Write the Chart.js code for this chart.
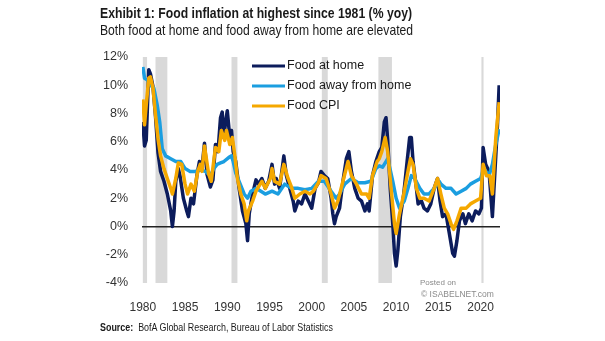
<!DOCTYPE html>
<html>
<head>
<meta charset="utf-8">
<script src="https://cdn.jsdelivr.net/npm/chart.js@4.4.1/dist/chart.umd.min.js"></script>
<style>
  body { margin: 0; background: #fff; }
  #wrap { position: relative; width: 605px; height: 341px; font-family: "Liberation Sans", Arial, sans-serif; color: #1a1a1a; }
  canvas { position: absolute; left: 0; top: 0; }
  .txt { position: absolute; white-space: nowrap; display: inline-block; transform-origin: 0 50%; }
  #title { left: 100px; top: 4px; font-size: 15px; line-height: 18px; font-weight: bold; }
  #subtitle { left: 100px; top: 21px; font-size: 14.5px; line-height: 18px; }
  #source { left: 100px; top: 320px; font-size: 11px; line-height: 14px; }
  #posted { left: 420px; top: 278px; font-size: 8px; line-height: 10px; color: #8a8a8a; }
  #isabel { left: 421px; top: 289px; font-size: 8.5px; line-height: 10px; color: #8a8a8a; }
</style>
</head>
<body>
<div id="wrap">
  <canvas id="chart" width="605" height="341"></canvas>
  <div class="txt" id="title" data-w="312">Exhibit 1: Food inflation at highest since 1981 (% yoy)</div>
  <div class="txt" id="subtitle" data-w="313">Both food at home and food away from home are elevated</div>
  <div class="txt" id="source" data-w="233"><b>Source:</b>&nbsp; BofA Global Research, Bureau of Labor Statistics</div>
  <div class="txt" id="posted">Posted on</div>
  <div class="txt" id="isabel">© ISABELNET.com</div>
</div>
<script>
// Food at home, % yoy
const homeYears = [1980.0, 1980.2, 1980.4, 1980.7, 1980.9, 1981.2, 1981.5, 1981.8, 1982.1, 1982.5, 1982.9, 1983.3, 1983.5, 1983.7, 1983.9,
  1984.2, 1984.4, 1984.8, 1985.2, 1985.4, 1985.7, 1986.0, 1986.4, 1986.7, 1987.0, 1987.3, 1987.6, 1988.0, 1988.3, 1988.6,
  1988.9, 1989.2, 1989.4, 1989.6, 1989.8, 1990.0, 1990.3, 1990.5, 1990.7, 1991.0, 1991.4, 1991.8, 1992.2, 1992.4, 1992.6,
  1993.0, 1993.4, 1993.7, 1994.1, 1994.5, 1994.9, 1995.3, 1995.6, 1995.8, 1996.2, 1996.7, 1997.0, 1997.4, 1997.8, 1998.0,
  1998.4, 1998.8, 1999.2, 1999.6, 2000.0, 2000.4, 2000.8, 2001.1, 2001.5, 2001.9, 2002.3, 2002.5, 2002.7, 2002.9, 2003.3,
  2003.7, 2004.1, 2004.4, 2004.7, 2005.1, 2005.5, 2005.9, 2006.3, 2006.6, 2006.8, 2007.2, 2007.6, 2008.0, 2008.3, 2008.6,
  2008.8, 2009.0, 2009.3, 2009.6, 2009.8, 2010.0, 2010.2, 2010.5, 2010.9, 2011.3, 2011.6, 2011.8, 2012.0, 2012.4, 2012.6,
  2013.0, 2013.3, 2013.7, 2014.1, 2014.5, 2014.9, 2015.2, 2015.5, 2015.9, 2016.3, 2016.7, 2016.9, 2017.2, 2017.5, 2017.9,
  2018.2, 2018.6, 2019.0, 2019.4, 2019.8, 2020.1, 2020.3, 2020.6, 2021.0, 2021.4, 2021.7, 2022.0, 2022.2];
const homeValues = [7.4, 5.7, 6.1, 11.1, 10.8, 9.9, 7.8, 5.2, 3.9, 3.2, 2.3, 1.1, 0.0, 1.1, 3.2,
  4.1, 3.6, 2.0, 1.1, 0.7, 2.0, 1.6, 3.6, 4.6, 4.1, 5.9, 3.7, 2.8, 3.3, 5.8,
  5.3, 7.7, 8.1, 6.3, 7.4, 8.2, 6.3, 6.8, 5.3, 4.6, 2.7, 1.1, 0.2, -1.0, 0.9,
  2.3, 3.3, 3.0, 3.4, 2.7, 3.2, 4.4, 3.0, 3.4, 2.7, 5.0, 3.6, 2.7, 1.8, 1.1,
  1.8, 1.6, 2.3, 1.8, 1.3, 2.7, 3.1, 3.9, 3.6, 3.4, 2.0, 0.9, 0.2, 0.7, 1.3,
  3.2, 4.8, 5.3, 3.9, 2.7, 2.0, 1.8, 1.1, 1.6, 1.1, 3.6, 4.6, 5.3, 5.6, 7.4,
  7.7, 6.1, 2.7, 0.2, -1.9, -2.8, -1.7, 0.7, 2.3, 4.6, 6.3, 6.3, 4.6, 2.7, 1.6,
  1.8, 1.3, 1.1, 1.6, 2.7, 3.4, 1.8, 0.7, 0.9, -0.5, -1.9, -2.1, -1.0, 0.4, 0.9,
  0.2, 0.9, 0.4, 1.1, 0.9, 1.3, 5.6, 4.4, 3.9, 0.7, 3.9, 7.2, 10.0];

// Food away from home, % yoy
const awayYears = [1980.0, 1980.2, 1980.5, 1980.9, 1981.3, 1981.7, 1982.0, 1982.3, 1982.7, 1983.3, 1983.9, 1984.5, 1985.0, 1985.6, 1986.2,
  1986.8, 1987.4, 1988.0, 1988.4, 1988.8, 1989.2, 1989.6, 1990.2, 1990.5, 1990.7, 1991.0, 1991.4, 1992.0, 1992.4, 1992.8,
  1993.4, 1993.7, 1994.5, 1995.3, 1996.0, 1996.8, 1997.6, 1998.4, 1999.2, 2000.0, 2000.8, 2001.5, 2002.3, 2002.9, 2003.3,
  2003.9, 2004.7, 2005.5, 2006.3, 2007.0, 2007.6, 2008.0, 2008.4, 2008.8, 2009.0, 2009.3, 2009.6, 2010.0, 2010.4, 2010.96,
  2011.4, 2011.8, 2012.2, 2012.8, 2013.3, 2013.9, 2014.5, 2015.1, 2015.3, 2015.9, 2016.5, 2017.1, 2017.7, 2018.3, 2018.8,
  2019.4, 2020.0, 2020.4, 2021.0, 2021.4, 2021.8, 2022.2];
const awayValues = [11.3, 10.5, 10.4, 10.0, 9.8, 8.6, 7.4, 5.5, 5.0, 4.8, 4.6, 4.6, 4.1, 3.9, 3.9,
  4.0, 3.9, 3.6, 4.1, 4.4, 4.5, 4.6, 4.9, 5.0, 4.6, 3.8, 3.2, 2.3, 2.0, 2.5,
  2.7, 2.6, 2.3, 2.5, 2.3, 3.0, 2.7, 2.7, 2.6, 2.7, 3.2, 3.2, 2.5, 2.0, 2.3,
  3.0, 3.4, 3.1, 3.1, 3.2, 4.1, 4.3, 4.2, 4.6, 4.8, 4.0, 3.2, 2.0, 1.3, 1.8,
  2.7, 3.6, 3.4, 2.7, 2.3, 2.3, 2.7, 3.2, 3.0, 2.7, 2.7, 2.3, 2.5, 2.7, 3.0,
  3.2, 3.4, 4.1, 3.6, 4.4, 5.8, 6.9];

// Food CPI, % yoy
const cpiYears = [1980.0, 1980.2, 1980.4, 1980.7, 1980.9, 1981.2, 1981.5, 1981.8, 1982.1, 1982.5, 1982.9, 1983.3, 1983.5, 1983.9, 1984.2,
  1984.6, 1985.0, 1985.3, 1985.7, 1986.1, 1986.5, 1986.8, 1987.0, 1987.3, 1987.8, 1988.1, 1988.6, 1989.0, 1989.3, 1989.7,
  1989.9, 1990.3, 1990.6, 1990.9, 1991.2, 1991.6, 1992.0, 1992.3, 1992.5, 1993.0, 1993.4, 1993.7, 1994.1, 1994.5, 1995.1,
  1995.3, 1995.6, 1996.2, 1996.7, 1997.2, 1997.6, 1998.0, 1998.6, 1999.2, 1999.8, 2000.2, 2000.8, 2001.1, 2001.7, 2002.3,
  2002.7, 2003.1, 2003.7, 2004.3, 2004.7, 2005.3, 2005.9, 2006.5, 2006.8, 2007.2, 2007.75, 2008.0, 2008.3, 2008.7, 2009.0,
  2009.4, 2009.8, 2010.0, 2010.4, 2010.9, 2011.4, 2011.7, 2012.0, 2012.4, 2012.8, 2013.3, 2013.9, 2014.5, 2014.9, 2015.3,
  2015.7, 2016.1, 2016.5, 2016.8, 2017.2, 2017.7, 2018.3, 2018.8, 2019.4, 2020.0, 2020.3, 2020.7, 2021.1, 2021.4, 2021.8,
  2022.2];
const cpiValues = [9.0, 7.2, 8.6, 10.5, 10.6, 9.8, 7.9, 6.2, 5.0, 4.1, 3.4, 2.7, 2.3, 3.4, 4.5,
  4.4, 3.0, 2.3, 3.0, 2.5, 3.9, 4.4, 3.9, 5.7, 3.7, 3.2, 5.6, 5.3, 6.8, 6.1,
  6.8, 5.8, 6.3, 5.0, 3.4, 2.3, 1.6, 0.4, 1.1, 1.8, 2.5, 2.8, 3.2, 2.7, 3.4,
  4.1, 3.2, 3.0, 4.4, 3.4, 2.8, 2.0, 2.3, 2.5, 2.3, 2.5, 3.1, 3.6, 3.4, 2.3,
  1.3, 1.8, 3.2, 4.6, 3.6, 3.0, 2.3, 2.3, 2.0, 3.6, 4.6, 4.8, 5.3, 6.3, 5.3,
  2.7, 0.2, -0.5, 0.9, 2.3, 3.9, 4.8, 4.4, 2.7, 2.0, 2.0, 1.8, 2.7, 3.4, 2.3,
  1.3, 0.9, 0.2, -0.2, 0.4, 1.3, 1.3, 1.6, 1.8, 2.0, 4.4, 3.6, 3.6, 2.3, 6.3,
  8.8];

// US recessions (shaded)
const recessionStart = [1980.0, 1981.5, 1990.5, 2001.2, 2007.9, 2020.1];
const recessionEnd = [1980.5, 1982.9, 1991.2, 2001.9, 2009.5, 2020.35];

const xTicks = [1980, 1985, 1990, 1995, 2000, 2005, 2010, 2015, 2020];

const seriesLabels = ['Food at home', 'Food away from home', 'Food CPI'];
const seriesColors = ['#0c1c5c', '#1b9ee0', '#f5a800'];

function pts(xs, ys) {
  return xs.map((x, i) => ({ x: x, y: ys[i] }));
}

const recessionPlugin = {
  id: 'recessions',
  beforeDraw(chart) {
    const { ctx, chartArea, scales } = chart;
    ctx.save();
    ctx.fillStyle = '#d9d9d9';
    for (let i = 0; i < recessionStart.length; i++) {
      const a = scales.x.getPixelForValue(recessionStart[i]);
      const b = scales.x.getPixelForValue(recessionEnd[i]);
      ctx.fillRect(a, chartArea.top, Math.max(b - a, 2), chartArea.bottom - chartArea.top);
    }
    ctx.restore();
  }
};

const legendPlugin = {
  id: 'lineLegend',
  afterDraw(chart) {
    const ctx = chart.ctx;
    ctx.save();
    ctx.font = '12.5px "Liberation Sans", Arial, sans-serif';
    ctx.textBaseline = 'middle';
    seriesLabels.forEach((label, i) => {
      const y = 66 + i * 20;
      ctx.strokeStyle = seriesColors[i];
      ctx.lineWidth = 3;
      ctx.beginPath();
      ctx.moveTo(252, y);
      ctx.lineTo(285, y);
      ctx.stroke();
      ctx.fillStyle = '#1a1a1a';
      ctx.fillText(label, 287, y);
    });
    ctx.restore();
  }
};

const data = {
  datasets: [
    { label: seriesLabels[0], data: pts(homeYears, homeValues), borderColor: seriesColors[0], borderWidth: 3.5, order: 3 },
    { label: seriesLabels[1], data: pts(awayYears, awayValues), borderColor: seriesColors[1], borderWidth: 3.5, order: 2 },
    { label: seriesLabels[2], data: pts(cpiYears, cpiValues), borderColor: seriesColors[2], borderWidth: 3.5, order: 1 }
  ]
};

const config = {
  type: 'line',
  data: data,
  options: {
    responsive: false,
    animation: false,
    devicePixelRatio: 1,
    elements: { point: { radius: 0 }, line: { tension: 0, borderJoinStyle: 'round' } },
    layout: { padding: { top: 57, right: 105, left: 0, bottom: 0 } },
    plugins: { legend: { display: false }, tooltip: { enabled: false } },
    scales: {
      x: {
        type: 'linear',
        min: 1979.9,
        max: 2022.3,
        grid: { display: false },
        border: { display: false },
        afterBuildTicks: s => { s.ticks = xTicks.map(v => ({ value: v })); },
        afterFit: s => { s.height = 58; },
        ticks: {
          padding: 9,
          maxRotation: 0,
          autoSkip: false,
          color: '#333',
          font: { family: '"Liberation Sans", Arial, sans-serif', size: 12 },
          callback: v => String(v)
        }
      },
      y: {
        min: -4,
        max: 12,
        border: { display: false },
        grid: {
          drawTicks: false,
          lineWidth: 1.5,
          color: c => (c.tick && c.tick.value === 0 ? '#222' : 'rgba(0,0,0,0)')
        },
        afterFit: s => { s.width = 142; },
        ticks: {
          stepSize: 2,
          padding: 14,
          color: '#333',
          font: { family: '"Liberation Sans", Arial, sans-serif', size: 12.5 },
          callback: v => v + '%'
        }
      }
    }
  },
  plugins: [recessionPlugin, legendPlugin]
};

new Chart(document.getElementById('chart'), config);

// squeeze the condensed header / source texts to the widths of the original
document.querySelectorAll('.txt[data-w]').forEach(el => {
  const w = el.getBoundingClientRect().width;
  el.style.transform = 'scaleX(' + (Number(el.dataset.w) / w) + ')';
});
</script>
</body>
</html>
